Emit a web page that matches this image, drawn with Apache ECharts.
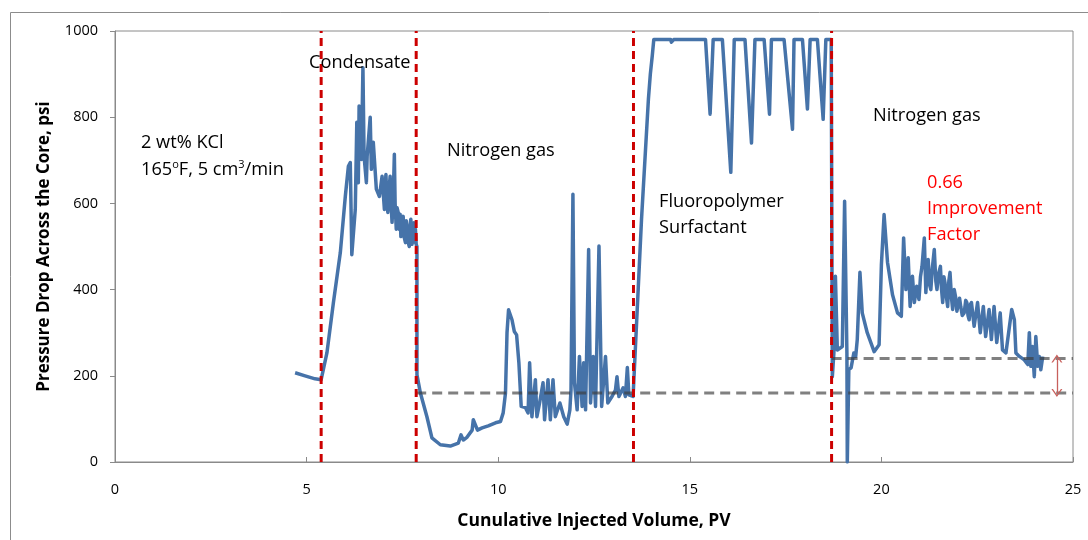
<!DOCTYPE html>
<html><head><meta charset="utf-8">
<script src="https://cdn.jsdelivr.net/npm/echarts@6/dist/echarts.min.js"></script>
<style>html,body{margin:0;padding:0;background:#fff}#c{width:1088px;height:540px}</style>
</head><body><div id="c"></div>
<script>
// ---- data (cumulative injected volume PV, pressure drop psi) ----
const brine = [[4.70,207],[4.96,200],[5.22,193],[5.38,191]];
const condensate = [[5.43,191],[5.53,253],[5.70,370],[5.88,486],[6.01,616],[6.09,686],[6.14,695],
  [6.18,481],[6.27,586],[6.31,788],[6.35,648],[6.37,826],[6.43,702],[6.47,915],[6.50,709],[6.56,648],
  [6.58,709],[6.66,800],[6.69,679],[6.74,742],[6.82,633],[6.90,616],[6.97,663],[7.03,586],[7.05,640],
  [7.07,667],[7.10,600],[7.12,579],[7.15,630],[7.18,663],[7.21,590],[7.23,556],[7.26,610],[7.29,714],
  [7.31,600],[7.34,540],[7.36,590],[7.39,579],[7.42,540],[7.44,575],[7.46,523],[7.49,560],[7.52,570],
  [7.55,520],[7.58,509],[7.60,560],[7.63,556],[7.65,510],[7.68,500],[7.70,550],[7.72,563],[7.75,505],
  [7.78,505],[7.80,555],[7.82,510],[7.84,540],[7.86,505],[7.88,500]];
const nitrogen1 = [[7.88,202],[7.97,160],[8.14,105],[8.27,56],[8.49,40],[8.75,37],[8.96,44],[9.03,63],
  [9.09,51],[9.19,58],[9.32,74],[9.35,98],[9.46,74],[9.58,79],[9.74,84],[9.93,91],[10.06,94],[10.13,114],
  [10.19,160],[10.23,300],[10.27,353],[10.36,330],[10.42,303],[10.48,295],[10.54,230],[10.60,129],
  [10.71,126],[10.78,114],[10.82,230],[10.88,105],[10.97,191],[11.01,105],[11.08,137],[11.17,184],
  [11.21,98],[11.30,191],[11.36,98],[11.43,191],[11.49,105],[11.61,137],[11.71,105],[11.80,88],
  [11.87,121],[11.90,167],[11.95,621],[11.99,184],[12.06,121],[12.12,245],[12.19,129],[12.23,230],
  [12.28,121],[12.36,493],[12.41,137],[12.48,245],[12.54,129],[12.63,501],[12.70,129],[12.80,245],
  [12.86,137],[12.97,152],[13.06,167],[13.10,198],[13.15,152],[13.26,172],[13.32,152],[13.37,219],
  [13.41,156],[13.52,152]];
const surfactant = [[13.74,563],[13.92,842],[13.97,900],[14.02,942],[14.06,980],[14.50,980],[14.52,974],
  [14.58,980],[15.41,980],[15.53,807],[15.61,980],[15.85,980],[16.07,672],[16.16,980],[16.44,980],
  [16.61,740],[16.70,980],[16.94,980],[17.08,807],[17.13,980],[17.46,980],[17.68,772],[17.72,980],
  [17.94,980],[18.07,819],[18.14,980],[18.33,980],[18.48,795],[18.55,980],[18.69,980]];
const nitrogen2 = [[18.72,198],[18.76,253],[18.80,431],[18.85,260],[18.98,268],[19.04,605],[19.10,253],
  [19.11,0],[19.15,214],[19.21,219],[19.28,253],[19.33,245],[19.37,284],[19.44,440],[19.50,346],
  [19.63,300],[19.81,256],[19.94,272],[20.00,458],[20.07,574],[20.16,463],[20.29,388],[20.42,346],
  [20.52,338],[20.58,520],[20.64,400],[20.70,474],[20.75,361],[20.81,431],[20.86,370],[20.92,408],
  [20.98,377],[21.02,430],[21.06,454],[21.12,520],[21.16,393],[21.19,440],[21.22,470],[21.26,410],
  [21.29,400],[21.33,450],[21.38,493],[21.42,420],[21.45,400],[21.50,440],[21.54,454],[21.57,400],
  [21.60,370],[21.63,430],[21.66,416],[21.70,380],[21.73,361],[21.76,420],[21.79,440],[21.83,380],
  [21.86,354],[21.90,400],[21.94,381],[21.97,350],[22.00,346],[22.04,380],[22.07,361],[22.11,340],
  [22.16,346],[22.20,375],[22.23,370],[22.26,340],[22.29,330],[22.32,365],[22.35,370],[22.42,315],
  [22.51,370],[22.58,300],[22.66,361],[22.72,291],[22.81,354],[22.87,284],[22.94,361],[23.01,277],
  [23.10,346],[23.16,260],[23.25,253],[23.33,307],[23.40,354],[23.47,330],[23.51,253],[23.60,245],
  [23.73,237],[23.82,226],[23.86,300],[23.90,222],[23.94,268],[23.99,198],[24.03,291],[24.08,222],
  [24.12,245],[24.16,214],[24.21,245]];
const phaseBoundaries = [5.38, 7.86, 13.53, 18.70];
const baselineStart = [7.86, 18.70];      // where reference pressure lines start
const baselineLevel = [160, 240];         // reference pressure levels, psi
const arrowX = 24.58;
const xTicks = [0, 5, 10, 15, 20, 25];
const yTicks = [0, 200, 400, 600, 800, 1000];

// ---- chart ----
const FONT = '"Open Sans", "Noto Sans", sans-serif';
const chart = echarts.init(document.getElementById('c'), null, {renderer: 'canvas'});
const trace = [].concat(brine, condensate, nitrogen1, surfactant, nitrogen2);
const CHEV = 'path://M0,10 L5,0 L10,10 L8.6,10 L5,2.8 L1.4,10 Z';

const series = [{
  type: 'line', data: trace, showSymbol: false, symbol: 'none', z: 3,
  lineStyle: {color: '#4673a9', width: 3.5, join: 'round'},
  markLine: {
    silent: true, symbol: [CHEV, CHEV], symbolSize: [11, 8], label: {show: false},
    lineStyle: {color: '#c8605c', width: 1.3, type: 'solid'},
    data: [[{coord: [arrowX, baselineLevel[1]]}, {coord: [arrowX, baselineLevel[0]]}]]
  }
}];
baselineLevel.forEach((lv, i) => {
  series.push({type: 'line', data: [[baselineStart[i], lv], [xTicks[xTicks.length-1], lv]], showSymbol: false, symbol: 'none', z: 4,
    lineStyle: {color: 'rgba(60,60,60,0.65)', width: 3, type: [10, 6]}});
});
phaseBoundaries.forEach(x => {
  series.push({type: 'line', data: [[x, yTicks[0]], [x, yTicks[yTicks.length-1]]], showSymbol: false, symbol: 'none', z: 5,
    lineStyle: {color: '#cc0000', width: 3, type: [8, 5]}});
});

function txt(x, y, text, color) {
  return {type: 'text', x: x, y: y, z: 10, style: {
    text: text, fill: color || '#000', font: '18.2px ' + FONT, textVerticalAlign: 'middle', textAlign: 'left'}};
}

chart.setOption({
  animation: false,
  backgroundColor: '#fff',
  grid: {left: 115, right: 15, top: 31, bottom: 78, show: true, borderColor: '#8a8a8a', borderWidth: 1, outerBoundsMode: 'none', containLabel: false},
  xAxis: {type: 'value', min: xTicks[0], max: xTicks[xTicks.length-1], interval: 5,
    name: 'Cunulative Injected Volume, PV', nameLocation: 'middle', nameGap: 50,
    nameTextStyle: {fontFamily: FONT, fontWeight: 'bold', fontSize: 17.5, color: '#000'},
    axisLine: {lineStyle: {color: '#8a8a8a', width: 1}},
    axisTick: {inside: true, length: 5, lineStyle: {color: '#8a8a8a'}},
    axisLabel: {fontFamily: FONT, fontSize: 14.5, color: '#000', margin: 20},
    splitLine: {show: false}},
  yAxis: {type: 'value', min: yTicks[0], max: yTicks[yTicks.length-1], interval: 200,
    name: 'Pressure Drop Across the Core, psi', nameLocation: 'middle', nameGap: 62, nameRotate: 90,
    nameTextStyle: {fontFamily: FONT, fontWeight: 'bold', fontSize: 17, color: '#000'},
    axisLine: {show: true, lineStyle: {color: '#8a8a8a', width: 1}},
    axisTick: {show: true, inside: false, length: 5, lineStyle: {color: '#8a8a8a'}},
    axisLabel: {fontFamily: FONT, fontSize: 14.5, color: '#000', margin: 17, formatter: v => String(v)},
    splitLine: {show: false}},
  series: series,
  graphic: [
    {type: 'rect', shape: {x: 10.5, y: 12.5, width: 1200, height: 700}, style: {fill: 'none', stroke: '#8c8c8c', lineWidth: 1}, z: 0, silent: true},
    txt(309, 63, 'Condensate'),
    txt(141, 143, '2 wt% KCl'),
    {type: 'text', x: 141, y: 170, z: 10, style: {
      text: '{n|165}{s|o}{n|F, 5 cm}{s|3}{n|/min}', textVerticalAlign: 'middle', textAlign: 'left',
      rich: {n: {fontFamily: FONT, fontSize: 18.2, color: '#000', lineHeight: 22},
             s: {fontFamily: FONT, fontSize: 11, color: '#000', verticalAlign: 'top', lineHeight: 22}}}},
    txt(447, 151, 'Nitrogen gas'),
    txt(659, 202, 'Fluoropolymer'),
    txt(659, 228, 'Surfactant'),
    txt(873, 116, 'Nitrogen gas'),
    txt(927, 183, '0.66', '#ff0000'),
    txt(927, 209, 'Improvement', '#ff0000'),
    txt(927, 235, 'Factor', '#ff0000')
  ]
});
</script></body></html>
